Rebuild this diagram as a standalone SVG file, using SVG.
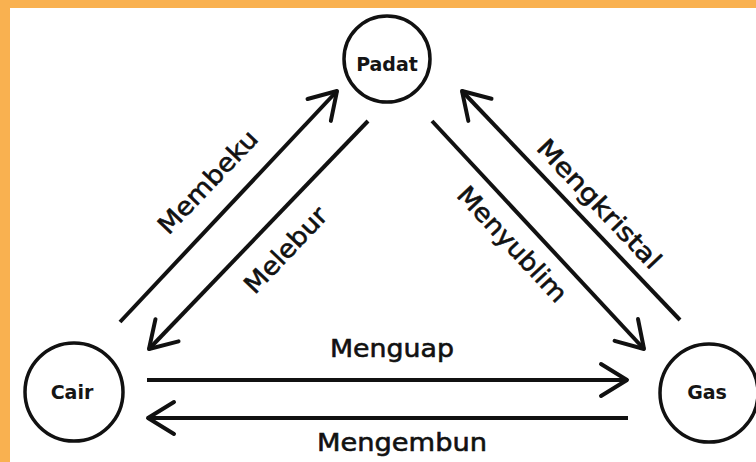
<svg xmlns="http://www.w3.org/2000/svg" width="756" height="462" viewBox="0 0 756 462">
<style>
.node{fill:#fff;stroke:#111;stroke-width:3.5}
.nlabel{font-family:"DejaVu Sans","Open Sans",sans-serif;font-weight:bold;font-size:19px;fill:#151515;text-anchor:middle;dominant-baseline:central}
.edge{stroke:#111;stroke-width:4;fill:none;marker-end:url(#head)}
.elabel{font-family:"Comic Sans MS","Segoe Print","DejaVu Sans",sans-serif;font-size:25px;fill:#111;stroke:#111;stroke-width:0.6;text-anchor:middle}
</style>
<defs>
<marker id="head" markerUnits="userSpaceOnUse" viewBox="-32 -20 36 40" markerWidth="36" markerHeight="40" refX="0" refY="0" orient="auto">
<path d="M-26,-16 L0,0 L-26,16" fill="none" stroke="#111" stroke-width="4" stroke-linecap="round" stroke-linejoin="round"/>
</marker>
</defs>
<rect x="0" y="0" width="756" height="462" fill="#F9B150"/>
<rect x="10" y="8" width="746" height="454" fill="#ffffff"/>
<g id="connectors">
<g id="e-membeku"><line class="edge" x1="120" y1="322" x2="337" y2="91"/><text class="elabel" transform="translate(214,188) rotate(-46.5)" textLength="132" lengthAdjust="spacingAndGlyphs">Membeku</text></g>
<g id="e-melebur"><line class="edge" x1="368" y1="121" x2="149" y2="349"/><text class="elabel" transform="translate(292,256) rotate(-46.5)" textLength="108" lengthAdjust="spacingAndGlyphs">Melebur</text></g>
<g id="e-menyublim"><line class="edge" x1="432" y1="121" x2="644" y2="349"/><text class="elabel" transform="translate(506,250) rotate(47)" textLength="148" lengthAdjust="spacingAndGlyphs">Menyublim</text></g>
<g id="e-mengkristal"><line class="edge" x1="680" y1="320" x2="462" y2="91"/><text class="elabel" transform="translate(593,210) rotate(46.5)" textLength="168" lengthAdjust="spacingAndGlyphs">Mengkristal</text></g>
<g id="e-menguap"><line class="edge" x1="147" y1="380" x2="627" y2="380"/><text class="elabel" x="392" y="357" textLength="124" lengthAdjust="spacingAndGlyphs">Menguap</text></g>
<g id="e-mengembun"><line class="edge" x1="628" y1="418" x2="148" y2="418"/><text class="elabel" x="402" y="451" textLength="170" lengthAdjust="spacingAndGlyphs">Mengembun</text></g>
</g>
<g id="padat"><circle class="node" cx="387" cy="59" r="43"/><text class="nlabel" x="387" y="64">Padat</text></g>
<g id="cair"><circle class="node" cx="74" cy="392" r="49"/><text class="nlabel" x="72" y="392">Cair</text></g>
<g id="gas"><circle class="node" cx="709" cy="393" r="49"/><text class="nlabel" x="707" y="392">Gas</text></g>
</svg>
